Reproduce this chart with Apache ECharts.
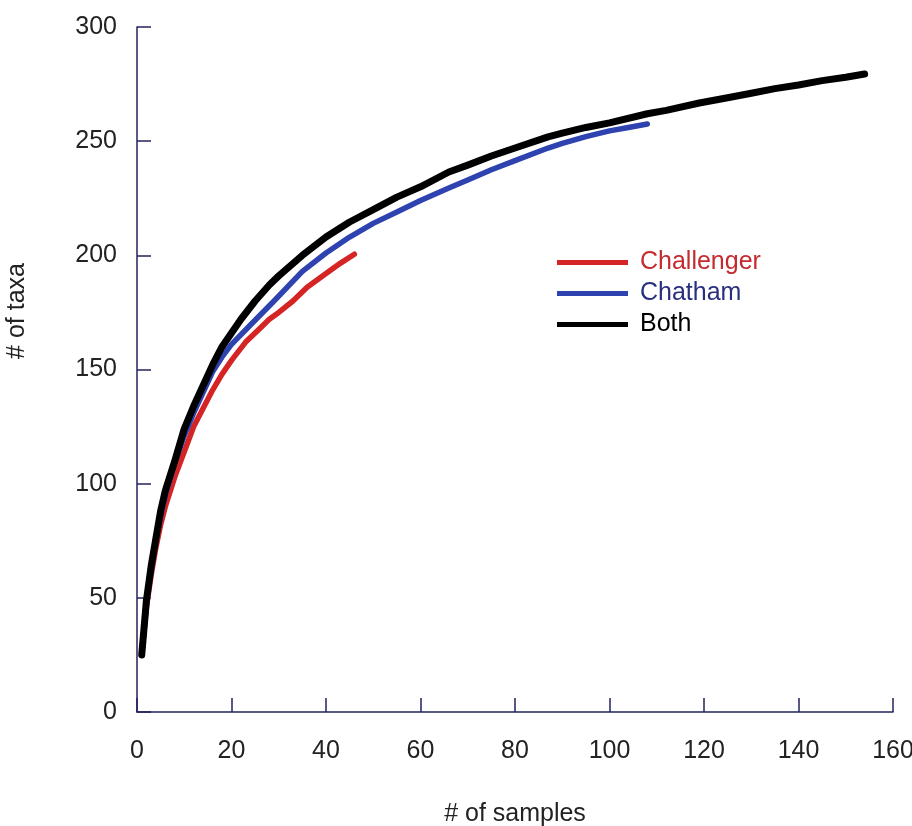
<!DOCTYPE html>
<html>
<head>
<meta charset="utf-8">
<script src="https://cdn.jsdelivr.net/npm/echarts@6/dist/echarts.min.js"></script>
<style>
  html, body { margin: 0; padding: 0; background: #fff; }
  #chart { width: 912px; height: 826px; }
</style>
</head>
<body>
<div id="chart"></div>
<script>
// values: [samples, taxa]
const challenger = [
  [1, 25], [2, 46], [3, 60], [4, 72], [5, 82], [6, 90], [8, 103], [10, 114],
  [12, 125], [14, 133], [16, 141], [18, 148], [20, 154], [23, 162], [26, 168],
  [28, 172], [30, 175], [33, 180], [36, 186], [40, 192], [43, 196.5], [46, 200.5]
]
const chatham = [
  [1, 25], [2, 48], [3, 62], [4, 75], [5, 86], [6, 95], [8, 109], [10, 121],
  [12, 131], [14, 140], [16, 149], [18, 155.5], [20, 161], [24, 169.5], [29, 180],
  [35, 193], [40, 201], [45, 208], [50, 214], [55, 219], [60, 224], [66, 229.5],
  [70, 233], [75, 237.5], [80, 241.5], [87, 247], [90, 249], [95, 252],
  [100, 254.5], [104, 256], [108, 257.5]
]
const both = [
  [1, 25], [2, 49], [3, 64], [4, 76], [5, 88], [6, 97], [8, 110], [10, 124],
  [12, 134], [14, 143], [16, 152], [18, 160], [20, 166], [22, 172], [25, 180],
  [28, 187], [30, 191], [35, 200], [40, 208], [45, 214.6], [50, 220], [55, 225.5],
  [60, 230], [66, 236.5], [70, 239.5], [75, 243.5], [80, 247], [87, 251.9],
  [90, 253.5], [95, 256], [100, 258], [108, 262], [112, 263.5], [119, 266.7],
  [125, 269], [130, 271], [135, 273], [140, 274.6], [145, 276.5], [150, 278],
  [154, 279.4]
]
const seriesNames = ['Challenger', 'Chatham', 'Both']
const seriesColors = ['#d42424', '#2f43b0', '#000000']
const legendTextColors = ['#c42a2e', '#28307e', '#000000']

const axisColor = '#23235e'
const font = 'Liberation Sans, Arial, sans-serif'

const chart = echarts.init(document.getElementById('chart'))

chart.setOption({
  animation: false,
  grid: { left: 137, right: 19, top: 27, bottom: 114, outerBoundsMode: 'none', containLabel: false },
  legend: {
    orient: 'vertical',
    left: 557,
    top: 250,
    padding: 0,
    itemWidth: 71,
    itemHeight: 5,
    itemGap: 6,
    icon: 'rect',
    textStyle: { fontFamily: font, fontSize: 25, padding: [0, 0, 0, 7] },
    data: seriesNames.map((name, i) => ({
      name,
      textStyle: { color: legendTextColors[i] }
    }))
  },
  xAxis: {
    type: 'value',
    min: 0,
    max: 160,
    interval: 20,
    name: '# of samples',
    nameLocation: 'middle',
    nameGap: 90,
    nameTextStyle: { fontFamily: font, fontSize: 25, color: '#222' },
    axisLine: { show: true, lineStyle: { color: axisColor, width: 1.5 } },
    axisTick: { show: true, inside: true, length: 14, lineStyle: { color: axisColor, width: 1.5 } },
    axisLabel: { fontFamily: font, fontSize: 25, color: '#222', margin: 27, showMaxLabel: true, hideOverlap: false },
    splitLine: { show: false }
  },
  yAxis: {
    type: 'value',
    min: 0,
    max: 300,
    interval: 50,
    axisLine: { show: true, lineStyle: { color: axisColor, width: 1.5 } },
    axisTick: { show: true, inside: true, length: 14, lineStyle: { color: axisColor, width: 1.5 } },
    axisLabel: { fontFamily: font, fontSize: 25, color: '#222', margin: 20 },
    splitLine: { show: false }
  },
  graphic: [
    {
      type: 'text',
      x: 17,
      y: 311,
      rotation: Math.PI / 2,
      style: {
        text: '# of taxa',
        font: '25px ' + font,
        fill: '#222',
        align: 'center',
        verticalAlign: 'middle'
      }
    }
  ],
  series: [
    { name: 'Challenger', data: challenger, width: 5.5 },
    { name: 'Chatham', data: chatham, width: 5.5 },
    { name: 'Both', data: both, width: 7 }
  ].map((s, i) => ({
    type: 'line',
    name: s.name,
    data: s.data,
    showSymbol: false,
    symbol: 'none',
    z: 2 + i,
    color: seriesColors[i],
    lineStyle: { color: seriesColors[i], width: s.width, cap: 'round', join: 'round' }
  }))
})
</script>
</body>
</html>
